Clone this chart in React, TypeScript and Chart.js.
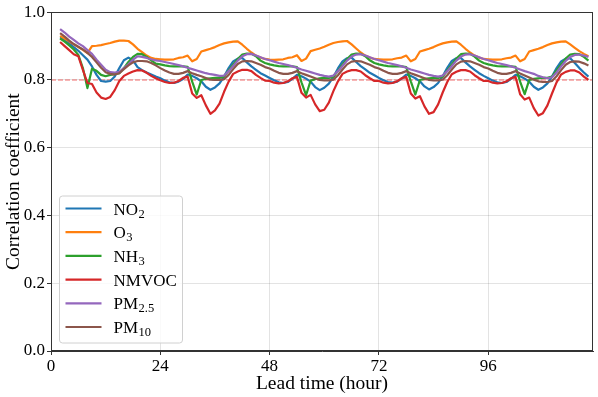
import { useEffect, useRef } from "react";
import { Chart, registerables } from "chart.js";

Chart.register(...registerables);

// Lead time of the first value (hours); one value per hour afterwards
const LEAD_START = 2;
const X_MAX = 119;
const X_TICKS = [0, 24, 48, 72, 96];
const Y_TICKS = [0, 0.2, 0.4, 0.6, 0.8, 1.0];
const THRESHOLD = 0.8;

const SERIES_NAMES = ["NO2", "O3", "NH3", "NMVOC", "PM2.5", "PM10"];
const COLORS = ["#1f77b4", "#ff7f0e", "#2ca02c", "#d62728", "#9467bd", "#8c564b"];

const NO2 = [
  0.926, 0.918, 0.908, 0.897, 0.886, 0.873, 0.860, 0.840, 0.815, 0.797, 0.795, 0.797, 0.810, 0.835, 0.858, 0.866, 0.858, 0.838, 0.829, 0.822, 0.816, 0.810,
  0.805, 0.798, 0.793, 0.791, 0.795, 0.803, 0.816, 0.812, 0.805, 0.796, 0.780, 0.771, 0.778, 0.790, 0.810, 0.835, 0.855, 0.863, 0.865, 0.852, 0.840, 0.830, 0.820, 0.813,
  0.806, 0.799, 0.793, 0.791, 0.794, 0.803, 0.815, 0.811, 0.804, 0.795, 0.779, 0.770, 0.777, 0.789, 0.809, 0.834, 0.855, 0.864, 0.866, 0.853, 0.841, 0.831, 0.821, 0.814,
  0.806, 0.799, 0.794, 0.792, 0.795, 0.804, 0.816, 0.812, 0.805, 0.796, 0.781, 0.772, 0.779, 0.791, 0.811, 0.836, 0.856, 0.864, 0.865, 0.852, 0.840, 0.830, 0.820, 0.812,
  0.805, 0.798, 0.793, 0.791, 0.794, 0.803, 0.815, 0.811, 0.804, 0.795, 0.780, 0.771, 0.778, 0.790, 0.810, 0.835, 0.855, 0.863, 0.864, 0.850, 0.835, 0.822, 0.810,
];

const O3 = [
  0.930, 0.922, 0.914, 0.905, 0.897, 0.889, 0.879, 0.900, 0.901, 0.903, 0.906, 0.909, 0.913, 0.916, 0.916, 0.915, 0.905, 0.892, 0.882, 0.872, 0.865, 0.862,
  0.861, 0.860, 0.860, 0.861, 0.865, 0.867, 0.872, 0.855, 0.862, 0.884, 0.888, 0.892, 0.897, 0.903, 0.908, 0.911, 0.913, 0.914, 0.904, 0.892, 0.881, 0.872, 0.866, 0.862,
  0.860, 0.859, 0.860, 0.861, 0.865, 0.867, 0.873, 0.856, 0.863, 0.885, 0.889, 0.893, 0.898, 0.904, 0.909, 0.912, 0.914, 0.915, 0.905, 0.893, 0.881, 0.872, 0.866, 0.862,
  0.861, 0.860, 0.860, 0.861, 0.864, 0.866, 0.872, 0.855, 0.862, 0.884, 0.888, 0.892, 0.897, 0.903, 0.908, 0.911, 0.913, 0.914, 0.904, 0.892, 0.881, 0.872, 0.866, 0.862,
  0.861, 0.860, 0.860, 0.861, 0.864, 0.866, 0.872, 0.855, 0.862, 0.884, 0.888, 0.892, 0.897, 0.903, 0.908, 0.911, 0.913, 0.914, 0.905, 0.895, 0.885, 0.877, 0.870,
];

const NH3 = [
  0.922, 0.913, 0.902, 0.890, 0.874, 0.835, 0.776, 0.833, 0.827, 0.815, 0.811, 0.815, 0.817, 0.820, 0.835, 0.853, 0.868, 0.877, 0.876, 0.868, 0.858, 0.848,
  0.846, 0.843, 0.841, 0.840, 0.840, 0.840, 0.839, 0.795, 0.757, 0.800, 0.803, 0.805, 0.806, 0.806, 0.810, 0.828, 0.845, 0.862, 0.875, 0.878, 0.877, 0.870, 0.857, 0.850,
  0.846, 0.843, 0.841, 0.840, 0.840, 0.840, 0.838, 0.793, 0.755, 0.798, 0.802, 0.805, 0.806, 0.806, 0.809, 0.827, 0.845, 0.862, 0.875, 0.878, 0.877, 0.870, 0.858, 0.850,
  0.846, 0.843, 0.841, 0.840, 0.840, 0.840, 0.838, 0.796, 0.757, 0.800, 0.803, 0.805, 0.806, 0.806, 0.810, 0.828, 0.846, 0.863, 0.876, 0.878, 0.877, 0.869, 0.857, 0.850,
  0.846, 0.843, 0.841, 0.840, 0.840, 0.840, 0.839, 0.795, 0.758, 0.800, 0.803, 0.805, 0.806, 0.806, 0.810, 0.828, 0.846, 0.863, 0.875, 0.877, 0.876, 0.868, 0.857,
];

const NMVOC = [
  0.912, 0.900, 0.888, 0.876, 0.870, 0.830, 0.791, 0.788, 0.763, 0.748, 0.744, 0.750, 0.770, 0.797, 0.812, 0.819, 0.825, 0.829, 0.828, 0.821, 0.812, 0.805,
  0.799, 0.794, 0.791, 0.792, 0.797, 0.806, 0.810, 0.760, 0.747, 0.755, 0.725, 0.700, 0.710, 0.730, 0.765, 0.795, 0.818, 0.825, 0.830, 0.830, 0.826, 0.815, 0.806, 0.798,
  0.797, 0.792, 0.790, 0.791, 0.796, 0.805, 0.809, 0.762, 0.748, 0.756, 0.728, 0.708, 0.712, 0.733, 0.767, 0.796, 0.818, 0.825, 0.829, 0.829, 0.825, 0.814, 0.805, 0.797,
  0.797, 0.792, 0.790, 0.791, 0.796, 0.805, 0.809, 0.760, 0.745, 0.752, 0.722, 0.700, 0.705, 0.728, 0.763, 0.794, 0.817, 0.824, 0.829, 0.829, 0.825, 0.814, 0.805, 0.797,
  0.797, 0.792, 0.790, 0.791, 0.796, 0.805, 0.809, 0.758, 0.742, 0.748, 0.717, 0.695, 0.702, 0.725, 0.760, 0.793, 0.816, 0.824, 0.828, 0.828, 0.822, 0.810, 0.800,
];

const PM25 = [
  0.950, 0.940, 0.928, 0.918, 0.908, 0.900, 0.888, 0.877, 0.860, 0.845, 0.830, 0.823, 0.822, 0.824, 0.835, 0.846, 0.860, 0.870, 0.868, 0.865, 0.861, 0.858,
  0.856, 0.853, 0.850, 0.847, 0.844, 0.840, 0.836, 0.832, 0.828, 0.824, 0.820, 0.817, 0.815, 0.812, 0.813, 0.826, 0.841, 0.857, 0.870, 0.876, 0.877, 0.872, 0.867, 0.862,
  0.858, 0.854, 0.850, 0.847, 0.844, 0.840, 0.836, 0.831, 0.827, 0.823, 0.819, 0.815, 0.812, 0.810, 0.813, 0.826, 0.841, 0.857, 0.869, 0.875, 0.876, 0.872, 0.867, 0.862,
  0.858, 0.854, 0.850, 0.847, 0.844, 0.840, 0.836, 0.831, 0.827, 0.823, 0.819, 0.815, 0.812, 0.810, 0.813, 0.826, 0.841, 0.857, 0.869, 0.875, 0.876, 0.872, 0.867, 0.862,
  0.858, 0.854, 0.850, 0.847, 0.844, 0.840, 0.836, 0.831, 0.826, 0.822, 0.818, 0.812, 0.808, 0.805, 0.808, 0.822, 0.840, 0.856, 0.868, 0.874, 0.875, 0.872, 0.868,
];

const PM10 = [
  0.938, 0.928, 0.916, 0.906, 0.898, 0.890, 0.880, 0.868, 0.852, 0.836, 0.823, 0.818, 0.816, 0.820, 0.832, 0.843, 0.852, 0.856, 0.856, 0.855, 0.850, 0.843,
  0.835, 0.828, 0.822, 0.818, 0.818, 0.821, 0.826, 0.820, 0.815, 0.811, 0.806, 0.801, 0.800, 0.800, 0.802, 0.815, 0.832, 0.847, 0.855, 0.856, 0.855, 0.850, 0.845, 0.838,
  0.834, 0.827, 0.821, 0.818, 0.818, 0.821, 0.826, 0.820, 0.815, 0.810, 0.805, 0.800, 0.799, 0.799, 0.801, 0.814, 0.831, 0.846, 0.854, 0.856, 0.855, 0.850, 0.845, 0.838,
  0.834, 0.827, 0.821, 0.818, 0.818, 0.821, 0.826, 0.820, 0.815, 0.810, 0.805, 0.800, 0.799, 0.799, 0.801, 0.814, 0.831, 0.846, 0.854, 0.856, 0.855, 0.850, 0.845, 0.838,
  0.834, 0.827, 0.821, 0.818, 0.818, 0.821, 0.826, 0.819, 0.813, 0.807, 0.801, 0.796, 0.794, 0.794, 0.797, 0.811, 0.829, 0.845, 0.853, 0.855, 0.854, 0.849, 0.843,
];

const SERIES = [NO2, O3, NH3, NMVOC, PM25, PM10];

const FONT = '"Liberation Serif", "Times New Roman", serif';

const thresholdPlugin = {
  id: "threshold",
  beforeDatasetsDraw(chart: any) {
    const { ctx, chartArea } = chart;
    const y = chart.scales.y.getPixelForValue(THRESHOLD);
    ctx.save();
    ctx.strokeStyle = "rgba(235,60,60,0.5)";
    ctx.lineWidth = 1.5;
    ctx.setLineDash([5, 2]);
    ctx.beginPath();
    ctx.moveTo(chartArea.left, y);
    ctx.lineTo(chartArea.right, y);
    ctx.stroke();
    ctx.restore();
  },
};

const framePlugin = {
  id: "frame",
  afterDatasetsDraw(chart: any) {
    const { ctx, chartArea } = chart;
    ctx.save();
    ctx.strokeStyle = "#333";
    ctx.lineWidth = 1;
    ctx.strokeRect(
      Math.round(chartArea.left) + 0.5,
      Math.round(chartArea.top) + 0.5,
      Math.round(chartArea.right - chartArea.left) - 1,
      Math.round(chartArea.bottom - chartArea.top) - 1
    );
    ctx.restore();
  },
};

const legendPlugin = {
  id: "customLegend",
  afterDraw(chart: any) {
    const { ctx, chartArea } = chart;
    const boxX = chartArea.left + 8.5;
    const boxW = 123;
    const boxH = 147;
    const boxY = chartArea.bottom - 8 - boxH;
    ctx.save();
    ctx.beginPath();
    (ctx as any).roundRect(boxX, boxY, boxW, boxH, 3);
    ctx.fillStyle = "rgba(255,255,255,0.8)";
    ctx.fill();
    ctx.strokeStyle = "#d0d0d0";
    ctx.lineWidth = 1;
    ctx.stroke();
    const rowStep = 23.7;
    const firstY = boxY + 12.5;
    SERIES_NAMES.forEach((name, i) => {
      const y = firstY + i * rowStep;
      ctx.strokeStyle = COLORS[i];
      ctx.lineWidth = 2.2;
      ctx.beginPath();
      ctx.moveTo(boxX + 6, y);
      ctx.lineTo(boxX + 42, y);
      ctx.stroke();
      const m = name.match(/^(.*?)([\d.]+)$/);
      const main = m ? m[1] : name;
      const sub = m ? m[2] : "";
      ctx.fillStyle = "#000";
      ctx.textBaseline = "alphabetic";
      ctx.textAlign = "left";
      ctx.font = `17px ${FONT}`;
      const tx = boxX + 54;
      const base = y + 6;
      ctx.fillText(main, tx, base);
      if (sub) {
        const w = ctx.measureText(main).width;
        ctx.font = `12.5px ${FONT}`;
        ctx.fillText(sub, tx + w + 0.5, base + 3);
      }
    });
    ctx.restore();
  },
};

export default function App() {
  const canvasRef = useRef<HTMLCanvasElement | null>(null);

  useEffect(() => {
    const canvas = canvasRef.current;
    if (!canvas) return;
    const datasets = SERIES.map((values, i) => ({
      label: SERIES_NAMES[i],
      data: values.map((v, j) => ({ x: LEAD_START + j, y: v })),
      borderColor: COLORS[i],
      backgroundColor: COLORS[i],
      borderWidth: 2.2,
      pointRadius: 0,
      tension: 0,
      fill: false,
      borderJoinStyle: "round" as const,
      order: SERIES.length - 1 - i,
    }));

    const chart = new Chart(canvas, {
      type: "line",
      data: { datasets },
      plugins: [thresholdPlugin, framePlugin, legendPlugin],
      options: {
        animation: false,
        responsive: false,
        devicePixelRatio: 1,
        layout: { padding: { top: 11, right: 5, left: 0, bottom: 0 } },
        plugins: { legend: { display: false }, tooltip: { enabled: false } },
        scales: {
          x: {
            type: "linear",
            min: 0,
            max: X_MAX,
            afterBuildTicks: (scale: any) => {
              scale.ticks = X_TICKS.map((v) => ({ value: v }));
            },
            afterFit: (scale: any) => {
              scale.height = 46;
            },
            ticks: {
              color: "#000",
              font: { family: FONT, size: 17 },
              padding: 1,
              maxRotation: 0,
              autoSkip: false,
              callback: (v: any) => String(v),
            },
            grid: { color: "rgba(0,0,0,0.11)", tickColor: "#333", tickLength: 4 },
            border: { display: true, color: "#333", width: 1 },
            title: {
              display: true,
              text: "Lead time (hour)",
              color: "#000",
              font: { family: FONT, size: 19.5 },
              padding: { top: 0, bottom: 1 },
            },
          },
          y: {
            type: "linear",
            min: 0,
            max: 1,
            afterBuildTicks: (scale: any) => {
              scale.ticks = Y_TICKS.map((v) => ({ value: v }));
            },
            afterFit: (scale: any) => {
              scale.width = 51;
            },
            ticks: {
              color: "#000",
              font: { family: FONT, size: 17 },
              padding: 2,
              callback: (v: any) => Number(v).toFixed(1),
            },
            grid: { color: "rgba(0,0,0,0.11)", tickColor: "#333", tickLength: 4 },
            border: { display: true, color: "#333", width: 1 },
            title: {
              display: true,
              text: "Correlation coefficient",
              color: "#000",
              font: { family: FONT, size: 19.5 },
              padding: { top: 2, bottom: 0 },
            },
          },
        },
      },
    });
    return () => chart.destroy();
  }, []);

  return (
    <div style={{ position: "absolute", left: 0, top: 0, width: 598, height: 397, background: "#fff" }}>
      <canvas ref={canvasRef} width={598} height={397} style={{ display: "block" }} />
    </div>
  );
}
